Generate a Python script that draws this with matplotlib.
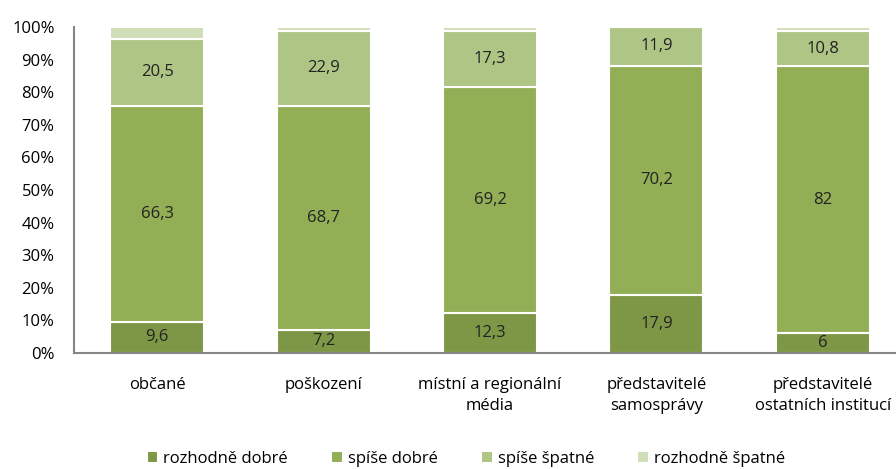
import matplotlib.pyplot as plt
import numpy as np

plt.rcParams['font.family'] = ['Open Sans', 'DejaVu Sans']

categories = ['občané', 'poškození', 'místní a regionální\nmédia',
              'představitelé\nsamosprávy', 'představitelé\nostatních institucí']
series_names = ['rozhodně dobré', 'spíše dobré', 'spíše špatné', 'rozhodně špatné']
rozhodne_dobre = [9.6, 7.2, 12.3, 17.9, 6.0]
spise_dobre = [66.3, 68.7, 69.2, 70.2, 82.0]
spise_spatne = [20.5, 22.9, 17.3, 11.9, 10.8]
rozhodne_spatne = [3.6, 1.2, 1.2, 0.0, 1.2]
labels = [['9,6', '7,2', '12,3', '17,9', '6'],
          ['66,3', '68,7', '69,2', '70,2', '82'],
          ['20,5', '22,9', '17,3', '11,9', '10,8'],
          None]
colors = ['#7D9746', '#93AF56', '#AEC585', '#D0DEB8']

fig = plt.figure(figsize=(8.96, 4.69), dpi=100)
ax = fig.add_axes([74 / 896, 1 - 353 / 469, 832 / 896, 326 / 469])

x = np.arange(len(categories))
bottom = np.zeros(len(categories))
for vals, name, col, lab in zip([rozhodne_dobre, spise_dobre, spise_spatne, rozhodne_spatne],
                                series_names, colors, labels):
    vals = np.array(vals)
    ax.bar(x, vals, width=0.565, bottom=bottom, color=col,
           edgecolor='white', linewidth=1.5, label=name)
    if lab is not None:
        for xi, b, v, t in zip(x, bottom, vals, lab):
            ax.text(xi, b + v / 2, t, ha='center', va='center', fontsize=12, color='#222222')
    bottom += vals

ax.set_xlim(-0.5, 4.5)
ax.set_ylim(0, 100)
ax.set_yticks(range(0, 101, 10))
ax.set_yticklabels([f'{v}%' for v in range(0, 101, 10)], fontsize=12)
ax.set_xticks(x)
ax.set_xticklabels(categories, fontsize=12, linespacing=1.45)
ax.tick_params(axis='both', length=0)
ax.tick_params(axis='x', pad=17)
ax.tick_params(axis='y', pad=14)
for s in ['top', 'right']:
    ax.spines[s].set_visible(False)
for s in ['left', 'bottom']:
    ax.spines[s].set_color('#868686')
    ax.spines[s].set_linewidth(1.5)

fig.legend(loc='lower center', bbox_to_anchor=(0.52, -0.027), ncol=4, frameon=False,
           fontsize=12, handlelength=0.7, handleheight=0.7, columnspacing=2.6,
           handletextpad=0.3)

fig.savefig('out.png', dpi=100)
